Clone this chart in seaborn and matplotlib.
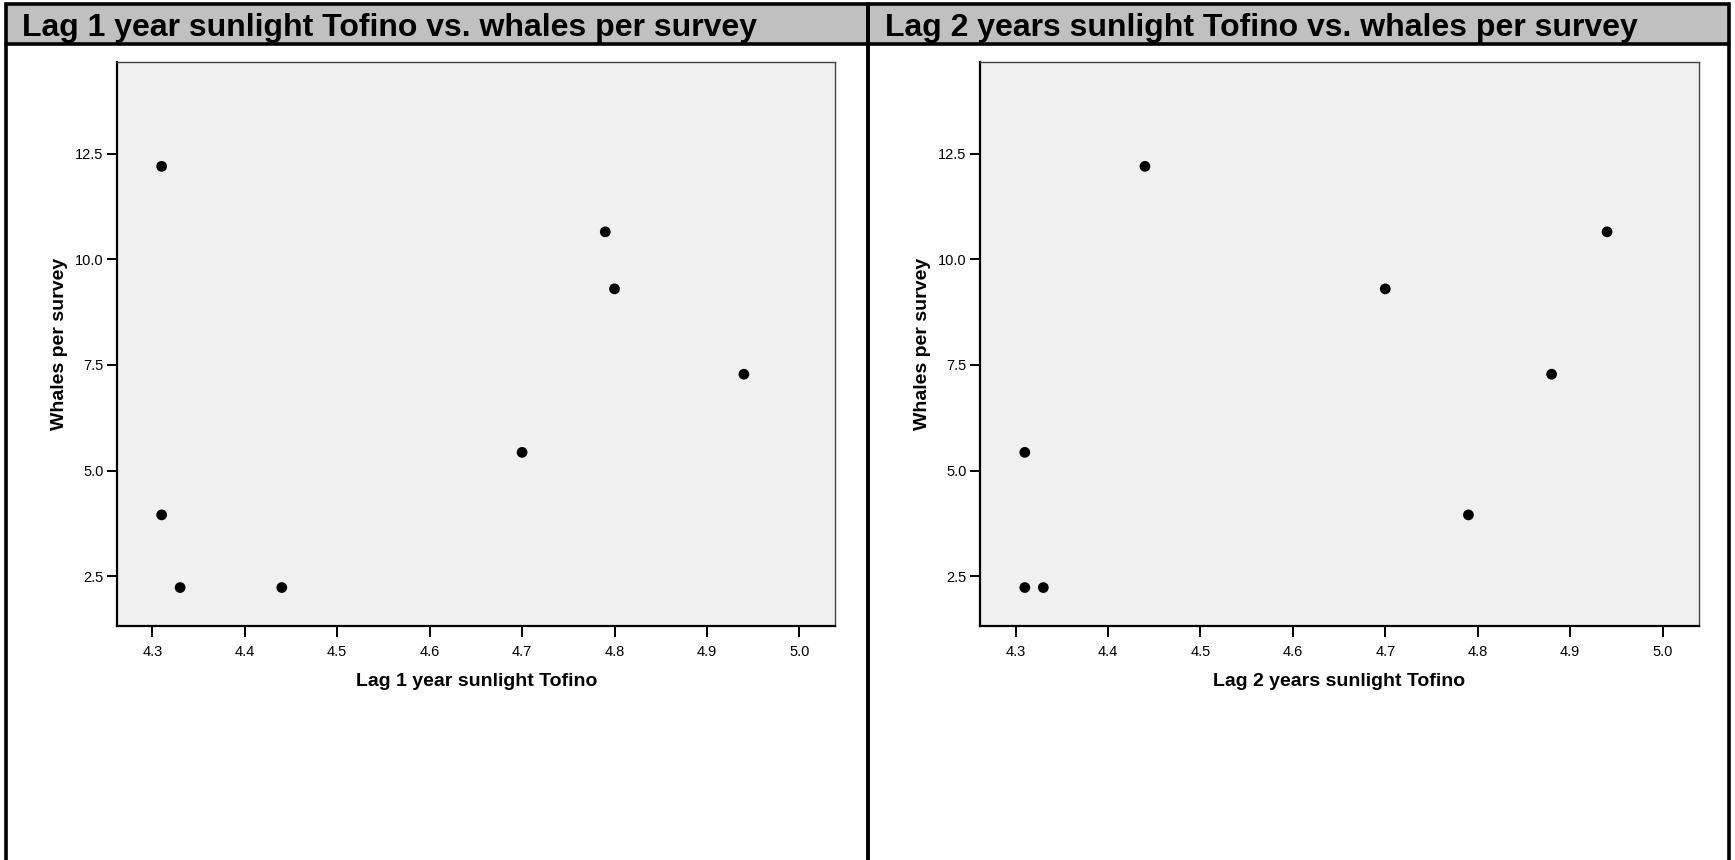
import matplotlib
matplotlib.use("Agg")
import matplotlib.pyplot as plt
import seaborn as sns
import pandas as pd
from matplotlib.patches import Rectangle
from matplotlib.lines import Line2D

# ---- data ----
whales_per_survey = [12.2, 10.65, 9.3, 7.28, 5.43, 3.95, 2.23, 2.23]
lag1_sunlight = [4.31, 4.79, 4.80, 4.94, 4.70, 4.31, 4.33, 4.44]
lag2_sunlight = [4.44, 4.94, 4.70, 4.88, 4.31, 4.79, 4.31, 4.33]

panel_titles = ["Lag 1 year sunlight Tofino vs. whales per survey",
                "Lag 2 years sunlight Tofino vs. whales per survey"]
x_labels = ["Lag 1 year sunlight Tofino", "Lag 2 years sunlight Tofino"]
y_label = "Whales per survey"
x_ticks = [4.3, 4.4, 4.5, 4.6, 4.7, 4.8, 4.9, 5.0]
y_ticks = [2.5, 5.0, 7.5, 10.0, 12.5]

sns.set_style("white")
plt.rcParams['font.family'] = ['Liberation Sans', 'DejaVu Sans']
plt.rcParams['text.color'] = 'black'
plt.rcParams['axes.labelcolor'] = 'black'
plt.rcParams['xtick.color'] = 'black'
plt.rcParams['ytick.color'] = 'black'

fig = plt.figure(figsize=(17.35, 8.6), dpi=100)

# panel frames + title bars
panels_x = [(0.0032, 0.5003), (0.5003, 0.9968)]
bar_bottom, bar_top = 0.9485, 0.9949
for (x0, x1), title in zip(panels_x, panel_titles):
    fig.add_artist(Rectangle((x0, bar_bottom), x1 - x0, bar_top - bar_bottom,
                             transform=fig.transFigure, facecolor="#c0c0c0",
                             edgecolor="none", zorder=0))
    fig.add_artist(Rectangle((x0, -0.05), x1 - x0, bar_top + 0.05,
                             transform=fig.transFigure, facecolor="none",
                             edgecolor="black", linewidth=2.6, zorder=5))
    fig.add_artist(Line2D([x0, x1], [bar_bottom, bar_bottom], transform=fig.transFigure,
                          color="black", linewidth=2.6, zorder=5))
    fig.text(x0 + 0.0095, (bar_bottom + bar_top) / 2 - 0.004, title,
             fontsize=23, fontweight="bold", ha="left", va="center")

axes_left = [0.0676, 0.5651]
for i, xs in enumerate([lag1_sunlight, lag2_sunlight]):
    ax = fig.add_axes([axes_left[i], 0.2721, 0.4139, 0.6558])
    df = pd.DataFrame({"x": xs, "y": whales_per_survey})
    sns.scatterplot(data=df, x="x", y="y", ax=ax, color="black", s=60,
                    edgecolor="none", linewidth=0)
    ax.set_facecolor("#f0f0f0")
    ax.set_xlim(4.262, 5.039)
    ax.set_ylim(1.32, 14.67)
    ax.set_xticks(x_ticks)
    ax.set_xticklabels([f"{t:.1f}" for t in x_ticks])
    ax.set_yticks(y_ticks)
    ax.set_yticklabels([f"{t:.1f}" for t in y_ticks])
    for side in ["left", "bottom"]:
        ax.spines[side].set_color("black")
        ax.spines[side].set_linewidth(1.6)
    for side in ["top", "right"]:
        ax.spines[side].set_color("#444444")
        ax.spines[side].set_linewidth(1.0)
        ax.spines[side].set_visible(True)
    ax.tick_params(axis="x", direction="out", length=8, width=1.4,
                   color="black", labelsize=10.5, pad=6, bottom=True)
    ax.tick_params(axis="y", direction="out", length=7, width=1.4,
                   color="black", labelsize=10.5, pad=3, left=True)
    ax.set_xlabel(x_labels[i], fontsize=14, fontweight="bold", labelpad=10)
    ax.set_ylabel(y_label, fontsize=14, fontweight="bold", labelpad=5)

fig.savefig("out.png", dpi=100)
